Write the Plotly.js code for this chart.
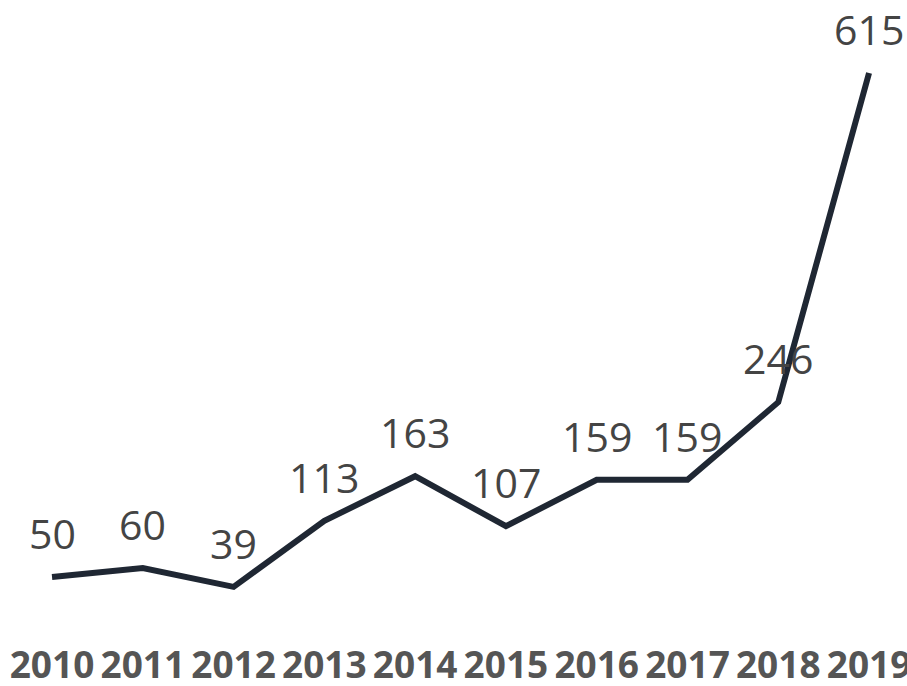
<!DOCTYPE html>
<html>
<head>
<meta charset="utf-8">
<script src="https://cdn.plot.ly/plotly-3.0.1.min.js"></script>
<style>html,body{margin:0;padding:0;background:#fff;}#chart{width:907px;height:686px;}</style>
</head>
<body>
<div id="chart"></div>
<script>
var years = [2010, 2011, 2012, 2013, 2014, 2015, 2016, 2017, 2018, 2019];
var values = [50, 60, 39, 113, 163, 107, 159, 159, 246, 615];
var tickLabels = ['2010','2011','2012','2013','2014','2015','2016','2017','2018','2019'];

var trace = {
  x: years,
  y: values,
  type: 'scatter',
  mode: 'lines',
  line: {color: '#1f2733', width: 6, shape: 'linear'},
  hoverinfo: 'none',
  cliponaxis: false
};

var annotations = years.map(function(yr, i){
  return {
    x: yr, y: values[i], xref: 'x', yref: 'y',
    text: String(values[i]), showarrow: false,
    yanchor: 'middle', xanchor: 'center', yshift: 44,
    font: {family: 'Open Sans, sans-serif', size: 41, color: '#444444'}
  };
});

var layout = {
  width: 907, height: 686,
  margin: {l: 0, r: 0, t: 0, b: 80, pad: 0},
  paper_bgcolor: '#ffffff', plot_bgcolor: '#ffffff',
  showlegend: false,
  xaxis: {
    range: [2009.427, 2019.418],
    tickvals: years, ticktext: tickLabels,
    showgrid: false, zeroline: false, showline: false, ticks: '',
    ticklabelstandoff: 34,
    ticklabeloverflow: 'allow',
    tickfont: {family: 'Open Sans, sans-serif', size: 37, color: '#555555', weight: 'bold'}
  },
  yaxis: {
    range: [17.5, 696.9],
    visible: false, showgrid: false, zeroline: false
  },
  annotations: annotations
};

Plotly.newPlot('chart', [trace], layout, {displayModeBar: false, staticPlot: true});
</script>
</body>
</html>
